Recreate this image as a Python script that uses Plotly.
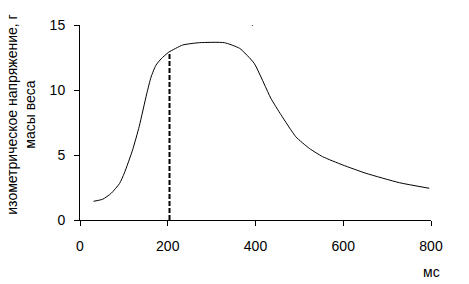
import plotly.graph_objects as go

time_ms = [31, 52, 71, 90, 101, 120, 135, 152, 162, 173, 185, 202, 234, 272, 329, 364, 397, 435, 458, 492, 523, 553, 599, 652, 728, 796]
tension = [1.44, 1.6, 2.05, 2.8, 3.6, 5.4, 7.2, 9.7, 11.0, 11.9, 12.4, 12.9, 13.46, 13.64, 13.64, 13.2, 12.05, 9.36, 8.1, 6.4, 5.5, 4.87, 4.23, 3.59, 2.87, 2.44]
marker_x = [204, 204]
marker_y = [0, 12.95]
x_ticks = [0, 200, 400, 600, 800]
y_ticks = [0, 5, 10, 15]

fig = go.Figure()
fig.add_trace(go.Scatter(x=time_ms, y=tension, mode="lines",
                         line=dict(color="black", width=1, shape="spline", smoothing=0.5),
                         showlegend=False, hoverinfo="skip"))
fig.add_trace(go.Scatter(x=marker_x, y=marker_y, mode="lines",
                         line=dict(color="black", width=2, dash="5px,2px"),
                         showlegend=False, hoverinfo="skip"))
fig.add_trace(go.Scatter(x=[393], y=[15], mode="markers",
                         marker=dict(color="black", size=1.5),
                         showlegend=False, hoverinfo="skip"))

font = dict(family="Liberation Sans, Arial, sans-serif", size=14, color="black")
fig.update_layout(
    width=469, height=284,
    margin=dict(l=80, r=38, t=25, b=64),
    paper_bgcolor="white", plot_bgcolor="white",
    font=font,
    xaxis=dict(range=[0, 800], tickvals=x_ticks, showgrid=False, zeroline=False,
               showline=True, linecolor="black", linewidth=1,
               ticks="outside", ticklen=5, tickcolor="black",
               ticklabelstandoff=8, fixedrange=True),
    yaxis=dict(range=[0, 15], tickvals=y_ticks, showgrid=False, zeroline=False,
               showline=True, linecolor="black", linewidth=1,
               ticks="outside", ticklen=5, tickcolor="black",
               ticklabelstandoff=6, fixedrange=True),
    annotations=[
        dict(text="изометрическое напряжение, г<br>масы веса", textangle=-90,
             xref="paper", yref="paper", x=0, y=0.54, xanchor="center", yanchor="middle",
             showarrow=False, font=font, xshift=-59),
        dict(text="мс", xref="paper", yref="paper", x=1.0, y=0, yshift=-52,
             xanchor="center", yanchor="middle", showarrow=False, font=font),
    ],
)
fig.write_html("out.html")
